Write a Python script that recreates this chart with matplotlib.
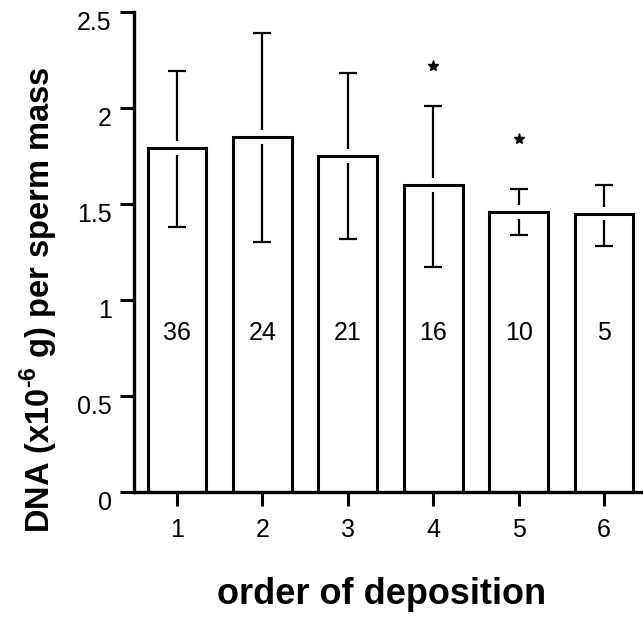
import matplotlib
matplotlib.use("Agg")
import matplotlib.pyplot as plt
import matplotlib.transforms as mtransforms
import numpy as np

plt.rcParams['font.family'] = ['Liberation Sans', 'DejaVu Sans']
plt.rcParams['mathtext.fontset'] = 'custom'
plt.rcParams['mathtext.rm'] = 'Liberation Sans:bold'
plt.rcParams['mathtext.bf'] = 'Liberation Sans:bold'

# order of deposition, mean DNA per sperm mass and error bar extents
orders = [1, 2, 3, 4, 5, 6]
means = [1.79, 1.85, 1.75, 1.60, 1.46, 1.45]
err_low = [0.41, 0.55, 0.43, 0.43, 0.12, 0.17]
err_high = [0.40, 0.54, 0.43, 0.41, 0.12, 0.15]
counts = ["36", "24", "21", "16", "10", "5"]
# significance markers
star_orders = [4, 5]
star_heights = [2.22, 1.84]
yticks = [0, 0.5, 1, 1.5, 2, 2.5]
ytick_labels = ["0", "0.5", "1", "1.5", "2", "2.5"]

fig = plt.figure(figsize=(6.43, 6.17), dpi=100)
ax = fig.add_axes([0.2084, 0.2026, 0.7916, 0.778])

x = np.array(orders, dtype=float)
m = np.array(means)
width = 0.69

# white-filled bars
ax.bar(x, m, width=width, color='white', edgecolor='none', zorder=1)

# error bars
ax.errorbar(x, m, yerr=[err_low, err_high], fmt='none', ecolor='black',
            elinewidth=1.6, capsize=6.5, capthick=1.6, zorder=2)

# small white break in the error line where it crosses the bar top
gap = 0.036
ax.vlines(x, m - gap, m + gap, colors='white', linewidth=4, zorder=3)

# bar outlines on top
ax.bar(x, m, width=width, fill=False, edgecolor='black', linewidth=2.2,
       zorder=4)

# sample sizes inside the bars
for xi, c in zip(x, counts):
    ax.text(xi, 0.83, c, ha='center', va='center', fontsize=18, zorder=5)

# asterisks
ax.plot(star_orders, star_heights, linestyle='none', marker='*',
        markersize=8, color='black', zorder=5)

ax.set_xlim(0.4965, 6.457)
ax.set_ylim(0, 2.5)

for s in ['top', 'right']:
    ax.spines[s].set_visible(False)
for s in ['left', 'bottom']:
    ax.spines[s].set_linewidth(2.4)

ax.set_xticks(orders)
ax.set_xticklabels([str(o) for o in orders])
ax.set_yticks(yticks)
ax.set_yticklabels(ytick_labels)
ax.tick_params(axis='both', direction='out', length=10, width=2.2,
               labelsize=18)
ax.tick_params(axis='x', pad=9)
ax.tick_params(axis='y', pad=6)

# y tick labels sit slightly below their ticks
offset = mtransforms.ScaledTranslation(0, -8 / 72, fig.dpi_scale_trans)
for lab in ax.get_yticklabels():
    lab.set_verticalalignment('center')
    lab.set_transform(lab.get_transform() + offset)

ax.set_xlabel("order of deposition", fontsize=26, fontweight='bold')
ax.xaxis.set_label_coords(0.487, -0.178)
ax.set_ylabel(r"DNA (x10$^{\text{-6}}$ g) per sperm mass", fontsize=23.5,
              fontweight='bold')
ax.yaxis.set_label_coords(-0.145, 0.40)

fig.savefig("out.png", dpi=100, facecolor='white')
